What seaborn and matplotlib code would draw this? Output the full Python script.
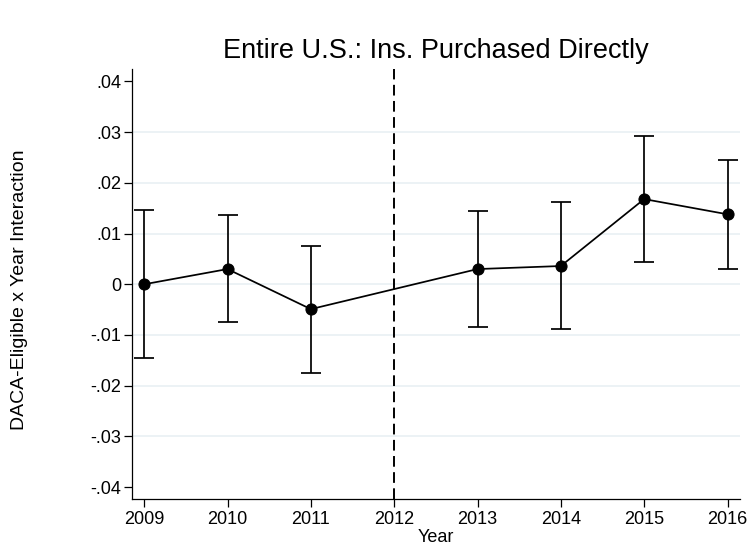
import matplotlib
matplotlib.use("Agg")
import matplotlib.pyplot as plt
import seaborn as sns
import pandas as pd

# Event-study coefficients with 95% confidence bounds
years = [2009, 2010, 2011, 2013, 2014, 2015, 2016]
coef = [0.0000, 0.0030, -0.0049, 0.0030, 0.0036, 0.0168, 0.0138]
ci_low = [-0.0146, -0.0075, -0.0174, -0.0084, -0.0088, 0.0043, 0.0031]
ci_high = [0.0147, 0.0137, 0.0076, 0.0144, 0.0162, 0.0293, 0.0245]

x_ticks = [2009, 2010, 2011, 2012, 2013, 2014, 2015, 2016]
y_ticks = [-0.04, -0.03, -0.02, -0.01, 0.0, 0.01, 0.02, 0.03, 0.04]
y_tick_labels = ["-.04", "-.03", "-.02", "-.01", "0", ".01", ".02", ".03", ".04"]
grid_levels = [-0.03, -0.02, -0.01, 0.0, 0.01, 0.02, 0.03]
policy_year = 2012

df = pd.DataFrame({"Year": years, "coef": coef, "lo": ci_low, "hi": ci_high})

sns.set_theme(style="white")
plt.rcParams["font.family"] = ["Liberation Sans", "DejaVu Sans"]

fig = plt.figure(figsize=(7.49, 5.48), dpi=100)
ax = fig.add_axes([0.1758, 0.0889, 0.8122, 0.7847])

# light horizontal reference lines
for g in grid_levels:
    ax.axhline(g, color="#e9f0f3", linewidth=1.2, zorder=0)

# confidence intervals
ax.errorbar(df["Year"], df["coef"],
            yerr=[df["coef"] - df["lo"], df["hi"] - df["coef"]],
            fmt="none", ecolor="black", elinewidth=1.25, capsize=7, capthick=1.25,
            zorder=2)

# point estimates joined by a line
sns.lineplot(data=df, x="Year", y="coef", ax=ax, color="black", linewidth=1.25,
             marker="o", markersize=8, markeredgecolor="black",
             markerfacecolor="black", zorder=3)

# policy year marker
ax.axvline(policy_year, color="black", linewidth=1.4, dashes=(5.5, 2.8), zorder=1)

ax.set_xlim(2008.85, 2016.15)
ax.set_ylim(-0.0424, 0.0424)
ax.set_xticks(x_ticks)
ax.set_xticklabels([str(v) for v in x_ticks])
ax.set_yticks(y_ticks)
ax.set_yticklabels(y_tick_labels)

ax.tick_params(axis="both", which="major", direction="out", length=5.5,
               width=0.9, color="black", labelsize=13, labelcolor="black",
               left=True, bottom=True)
ax.tick_params(axis="y", pad=2)
ax.tick_params(axis="x", pad=3)

for side in ["top", "right"]:
    ax.spines[side].set_visible(False)
for side in ["left", "bottom"]:
    ax.spines[side].set_color("black")
    ax.spines[side].set_linewidth(0.9)

ax.set_title("Entire U.S.: Ins. Purchased Directly", fontsize=19.5,
             color="black", pad=8)
ax.set_xlabel("Year", fontsize=13, color="black")
ax.set_ylabel("DACA-Eligible x Year Interaction", fontsize=14, color="black")
ax.xaxis.set_label_coords(0.5, -0.069)
ax.yaxis.set_label_coords(-0.17, 0.487)
ax.grid(False)

fig.savefig("out.png", dpi=100, facecolor="white")
